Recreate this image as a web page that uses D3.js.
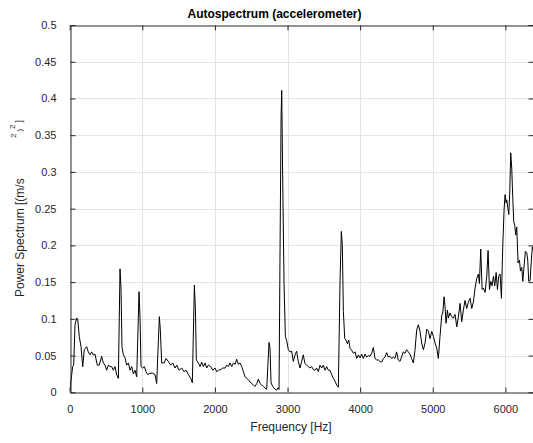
<!DOCTYPE html>
<html>
<head>
<meta charset="utf-8">
<script src="https://cdn.jsdelivr.net/npm/d3@7"></script>
<style>
  html, body { margin: 0; padding: 0; background: #fff; }
  svg { display: block; font-family: "Liberation Sans", Arial, Helvetica, sans-serif; }
</style>
</head>
<body>
<svg id="chart" width="533" height="443"></svg>
<script>
const title = "Autospectrum (accelerometer)";
const xLabel = "Frequency [Hz]";
const xTicks = [0, 1000, 2000, 3000, 4000, 5000, 6000];
const yTicks = [0, 0.05, 0.1, 0.15, 0.2, 0.25, 0.3, 0.35, 0.4, 0.45, 0.5];
const yTickLabels = ["0", "0.05", "0.1", "0.15", "0.2", "0.25", "0.3", "0.35", "0.4", "0.45", "0.5"];

const freq = [0,41,55,73,96,110,132,156,179,201,234,256,280,302,325,348,380,407,440,463,486,509,532,555,578,601,624,647,670,693,707,720,739,762,785,808,831,854,877,900,923,955,969,982,1005,1028,1051,1074,1106,1143,1175,1198,1235,1248,1267,1300,1327,1359,1391,1419,1451,1474,1506,1543,1575,1603,1635,1667,1689,1717,1731,1744,1772,1795,1818,1841,1864,1887,1910,1942,1970,2002,2025,2048,2080,2108,2140,2163,2186,2209,2232,2255,2278,2300,2323,2346,2369,2392,2415,2438,2461,2484,2507,2530,2553,2576,2598,2621,2644,2667,2690,2713,2745,2759,2773,2796,2828,2851,2869,2883,2897,2911,2920,2934,2952,2970,2989,3011,3034,3057,3080,3103,3125,3148,3172,3194,3217,3240,3263,3286,3309,3332,3355,3378,3401,3424,3447,3470,3493,3516,3539,3562,3585,3608,3631,3654,3677,3700,3723,3741,3755,3769,3788,3806,3825,3843,3861,3884,3907,3930,3953,3976,3999,4021,4044,4067,4090,4113,4136,4159,4182,4205,4228,4250,4273,4296,4319,4342,4365,4388,4411,4434,4457,4480,4502,4525,4548,4571,4594,4617,4640,4663,4686,4709,4733,4755,4779,4802,4825,4848,4871,4894,4917,4940,4963,4986,5009,5032,5055,5077,5100,5124,5138,5156,5169,5183,5202,5215,5238,5261,5284,5307,5331,5353,5376,5399,5422,5445,5468,5491,5514,5537,5560,5583,5606,5629,5643,5661,5680,5698,5721,5744,5762,5781,5799,5817,5836,5854,5873,5891,5909,5928,5946,5964,5982,5996,6010,6019,6033,6047,6060,6074,6088,6102,6116,6130,6143,6157,6175,6194,6208,6226,6240,6258,6276,6295,6308,6322,6341,6358,6372,6400];

const power = [0.002,0.035,0.037,0.092,0.101,0.100,0.076,0.062,0.035,0.058,0.062,0.055,0.051,0.055,0.051,0.052,0.037,0.037,0.049,0.040,0.037,0.030,0.037,0.035,0.035,0.030,0.035,0.024,0.019,0.168,0.140,0.062,0.051,0.047,0.037,0.040,0.030,0.035,0.025,0.030,0.021,0.137,0.100,0.035,0.033,0.035,0.028,0.024,0.026,0.026,0.024,0.012,0.103,0.085,0.040,0.040,0.046,0.042,0.037,0.040,0.033,0.037,0.030,0.033,0.028,0.030,0.024,0.019,0.013,0.146,0.115,0.044,0.040,0.035,0.041,0.035,0.040,0.033,0.037,0.035,0.030,0.033,0.028,0.030,0.031,0.033,0.033,0.037,0.035,0.040,0.035,0.040,0.038,0.045,0.038,0.040,0.035,0.028,0.021,0.019,0.017,0.014,0.012,0.010,0.008,0.012,0.018,0.012,0.010,0.008,0.006,0.004,0.068,0.060,0.013,0.008,0.004,0.003,0.006,0.004,0.194,0.375,0.411,0.285,0.148,0.076,0.070,0.058,0.055,0.056,0.042,0.051,0.056,0.042,0.033,0.042,0.051,0.039,0.037,0.035,0.033,0.035,0.031,0.030,0.033,0.028,0.037,0.033,0.037,0.030,0.035,0.030,0.030,0.024,0.019,0.015,0.010,0.007,0.150,0.219,0.200,0.110,0.073,0.071,0.066,0.071,0.060,0.057,0.053,0.055,0.046,0.051,0.047,0.052,0.046,0.052,0.048,0.050,0.049,0.053,0.061,0.046,0.044,0.044,0.042,0.041,0.046,0.048,0.054,0.048,0.049,0.046,0.048,0.046,0.055,0.044,0.042,0.048,0.055,0.053,0.058,0.055,0.052,0.046,0.040,0.057,0.085,0.092,0.083,0.067,0.058,0.067,0.086,0.083,0.073,0.083,0.076,0.067,0.060,0.046,0.076,0.105,0.108,0.130,0.117,0.094,0.112,0.101,0.108,0.103,0.101,0.106,0.089,0.103,0.121,0.096,0.112,0.125,0.114,0.123,0.128,0.114,0.123,0.142,0.155,0.161,0.148,0.195,0.140,0.142,0.136,0.158,0.193,0.140,0.151,0.145,0.158,0.145,0.163,0.140,0.158,0.161,0.128,0.198,0.248,0.269,0.258,0.262,0.252,0.242,0.270,0.326,0.305,0.265,0.232,0.227,0.214,0.225,0.176,0.180,0.165,0.170,0.151,0.172,0.192,0.190,0.180,0.151,0.152,0.180,0.198,0.187];

const svg = d3.select("#chart");
const mLeft = 69.7, mTop = 25, mRight = 534.4, mBottom = 392.3;
const axisColor = "#262626";

const x = d3.scaleLinear().domain([0, 6400]).range([mLeft, mRight]);
const y = d3.scaleLinear().domain([0, 0.5]).range([mBottom, mTop]);

// grid
const grid = svg.append("g").attr("stroke", "#e3e3e3").attr("stroke-width", 1);
grid.selectAll(".vg").data(xTicks.filter(d => d > 0)).enter().append("line")
  .attr("x1", d => Math.round(x(d)) + 0.5).attr("x2", d => Math.round(x(d)) + 0.5)
  .attr("y1", mTop).attr("y2", mBottom);
grid.selectAll(".hg").data(yTicks.filter(d => d > 0 && d < 0.5)).enter().append("line")
  .attr("y1", d => Math.round(y(d)) + 0.5).attr("y2", d => Math.round(y(d)) + 0.5)
  .attr("x1", mLeft).attr("x2", mRight);

// clip
svg.append("clipPath").attr("id", "clip").append("rect")
  .attr("x", mLeft).attr("y", mTop).attr("width", mRight - mLeft).attr("height", mBottom - mTop);

// line
const pts = freq.map((f, i) => [f, power[i]]);
svg.append("path").datum(pts)
  .attr("clip-path", "url(#clip)")
  .attr("fill", "none").attr("stroke", "#000").attr("stroke-width", 1)
  .attr("stroke-linejoin", "round")
  .attr("d", d3.line().x(d => x(d[0])).y(d => y(d[1])));

// axes (inner ticks, MATLAB-style)
const fmtY = d => yTickLabels[yTicks.indexOf(d)];
const xb = svg.append("g").attr("transform", `translate(0,${Math.round(mBottom) + 0.5})`)
  .call(d3.axisBottom(x).tickValues(xTicks).tickSizeInner(-5).tickSizeOuter(0).tickPadding(13).tickFormat(d3.format("d")));
const xt = svg.append("g").attr("transform", `translate(0,${Math.round(mTop) + 0.5})`)
  .call(d3.axisTop(x).tickValues(xTicks).tickSizeInner(-5).tickSizeOuter(0).tickFormat(""));
const yl = svg.append("g").attr("transform", `translate(${Math.round(mLeft) + 0.5},0)`)
  .call(d3.axisLeft(y).tickValues(yTicks).tickSizeInner(-5).tickSizeOuter(0).tickPadding(14).tickFormat(fmtY));
const yr = svg.append("g").attr("transform", `translate(${Math.round(mRight) - 0.5},0)`)
  .call(d3.axisRight(y).tickValues(yTicks).tickSizeInner(-5).tickSizeOuter(0).tickFormat(""));

[xb, xt, yl, yr].forEach(g => {
  g.selectAll("path.domain").attr("stroke", axisColor);
  g.selectAll(".tick line").attr("stroke", axisColor);
  g.selectAll(".tick text").attr("fill", axisColor)
    .style("font-family", "'Liberation Sans', Arial, sans-serif").style("font-size", "11px");
});

// title
svg.append("text").attr("x", 274.5).attr("y", 17.5).attr("text-anchor", "middle")
  .attr("font-size", 12).attr("font-weight", "bold").attr("fill", "#000").text(title);

// x label
svg.append("text").attr("x", 291).attr("y", 431).attr("text-anchor", "middle")
  .attr("font-size", 12).attr("fill", axisColor).text(xLabel);

// y label (as rendered in reference, with detached superscripts)
svg.append("text").attr("transform", "translate(23.5,297) rotate(-90)")
  .attr("font-size", 12).attr("fill", axisColor).text("Power Spectrum [(m/s");
const sup = svg.append("text").attr("transform", "translate(22,138) rotate(-90)")
  .attr("font-size", 8).attr("fill", axisColor);
sup.append("tspan").attr("dy", -6).text("2");
sup.append("tspan").attr("dx", 2).attr("dy", 6).text(")");
sup.append("tspan").attr("dx", 0).attr("dy", -7).text("2");
sup.append("tspan").attr("dx", 2).attr("dy", 7).attr("font-size", 9).text("]");
</script>
</body>
</html>
